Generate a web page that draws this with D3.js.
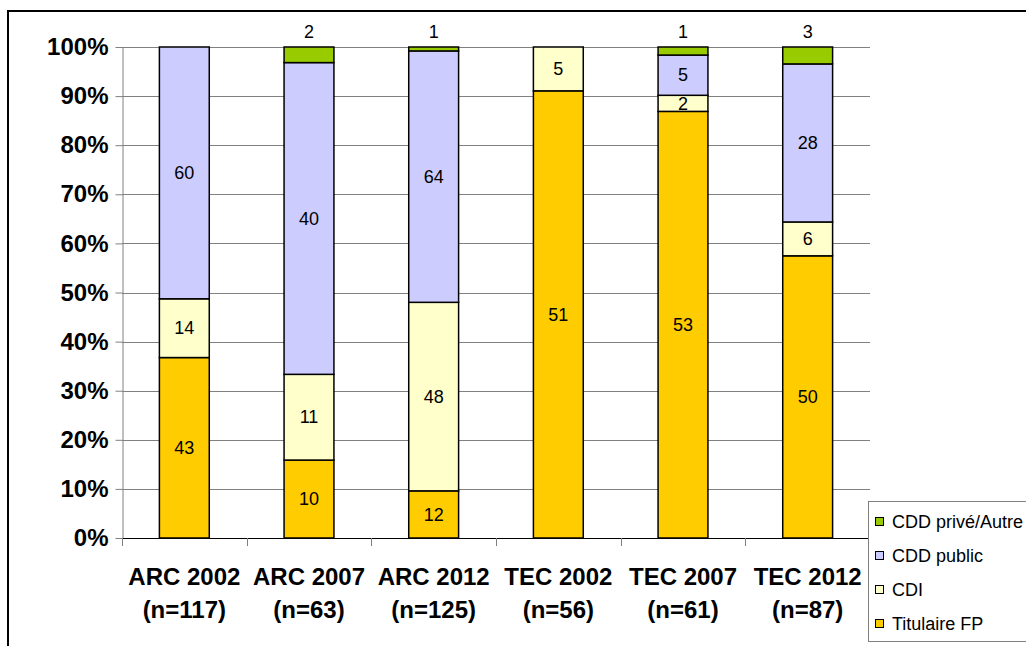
<!DOCTYPE html>
<html>
<head>
<meta charset="utf-8">
<script src="https://cdn.jsdelivr.net/npm/d3@7"></script>
<style>
  html, body { margin: 0; padding: 0; background: #fff; overflow: hidden; }
  svg { display: block; font-family: "Liberation Sans", Arial, sans-serif; }
</style>
</head>
<body>
<svg id="chart" width="1026" height="646"></svg>
<script>
// Staff status by cohort (headcounts, shown as 100% stacked bars)
const categories = ["ARC 2002", "ARC 2007", "ARC 2012", "TEC 2002", "TEC 2007", "TEC 2012"];
const sampleLabels = ["(n=117)", "(n=63)", "(n=125)", "(n=56)", "(n=61)", "(n=87)"];

const seriesNames = ["Titulaire FP", "CDI", "CDD public", "CDD privé/Autre"];
const seriesColors = ["#FFCC00", "#FFFFCC", "#CCCCFF", "#99CC00"];

const titulaireFP = [43, 10, 12, 51, 53, 50];
const cdi         = [14, 11, 48,  5,  2,  6];
const cddPublic   = [60, 40, 64,  0,  5, 28];
const cddPrive    = [ 0,  2,  1,  0,  1,  3];

const yTicks = [0, 0.1, 0.2, 0.3, 0.4, 0.5, 0.6, 0.7, 0.8, 0.9, 1];

const seriesValues = [titulaireFP, cdi, cddPublic, cddPrive];

const svg = d3.select("#chart");

// Outer chart frame
svg.append("rect")
  .attr("x", 8).attr("y", 11)
  .attr("width", 1100).attr("height", 700)
  .attr("fill", "none").attr("stroke", "#000").attr("stroke-width", 2);

const plot = { left: 122, right: 870, top: 47, bottom: 538 };

const x = d3.scaleBand()
  .domain(categories)
  .range([plot.left, plot.right])
  .paddingInner(0.6)
  .paddingOuter(0.3);

const y = d3.scaleLinear().domain([0, 1]).range([plot.bottom, plot.top]);

// Build rows with totals, then stack them as shares
const rows = categories.map((c, i) => {
  const r = { category: c };
  seriesNames.forEach((s, k) => { r[s] = seriesValues[k][i]; });
  r.total = d3.sum(seriesValues, v => v[i]);
  return r;
});

const stack = d3.stack()
  .keys(seriesNames)
  .value((d, key) => d[key] / d.total);
const stacked = stack(rows);

// Horizontal gridlines
svg.append("g")
  .selectAll("line")
  .data(yTicks.filter(t => t > 0))
  .join("line")
  .attr("x1", plot.left).attr("x2", plot.right)
  .attr("y1", d => Math.round(y(d)) + 0.5).attr("y2", d => Math.round(y(d)) + 0.5)
  .attr("stroke", "#808080").attr("stroke-width", 1);

// Y axis
const yAxis = svg.append("g")
  .attr("transform", `translate(${plot.left + 0.5},0)`)
  .call(d3.axisLeft(y).tickValues(yTicks).tickFormat(d3.format(".0%")).tickSize(7).tickPadding(7).tickSizeOuter(0));
yAxis.select(".domain").attr("stroke", "#808080");
yAxis.selectAll(".tick line").attr("stroke", "#808080");
yAxis.selectAll(".tick text")
  .attr("font-size", 24).attr("font-weight", "bold")
  .attr("font-family", "'Liberation Sans', Arial, sans-serif")
  .attr("fill", "#000");

// Stacked bars
const layers = svg.append("g")
  .selectAll("g")
  .data(stacked)
  .join("g")
  .attr("fill", (d, i) => seriesColors[i]);

layers.selectAll("rect")
  .data(d => d)
  .join("rect")
  .attr("x", d => x(d.data.category))
  .attr("width", x.bandwidth())
  .attr("y", d => y(d[1]))
  .attr("height", d => y(d[0]) - y(d[1]))
  .attr("stroke", "#000")
  .attr("stroke-width", 1.5)
  .attr("display", d => (d[1] - d[0]) > 0 ? null : "none");

// X axis baseline and category boundary ticks
svg.append("line")
  .attr("x1", plot.left).attr("x2", plot.right)
  .attr("y1", plot.bottom + 0.5).attr("y2", plot.bottom + 0.5)
  .attr("stroke", "#000").attr("stroke-width", 1);

svg.append("g")
  .selectAll("line")
  .data(d3.range(categories.length + 1))
  .join("line")
  .attr("x1", i => Math.round(plot.left + i * x.step()) + 0.5)
  .attr("x2", i => Math.round(plot.left + i * x.step()) + 0.5)
  .attr("y1", plot.bottom).attr("y2", plot.bottom + 8)
  .attr("stroke", "#808080").attr("stroke-width", 1);

// Category labels (two lines)
const catLabels = svg.append("g")
  .selectAll("text")
  .data(categories)
  .join("text")
  .attr("text-anchor", "middle")
  .attr("font-size", 24)
  .attr("font-weight", "bold")
  .attr("fill", "#000");
catLabels.append("tspan")
  .attr("x", d => x(d) + x.bandwidth() / 2)
  .attr("y", 585)
  .text(d => d);
catLabels.append("tspan")
  .attr("x", d => x(d) + x.bandwidth() / 2)
  .attr("y", 618)
  .text((d, i) => sampleLabels[i]);

// Value labels: inside segments, top series above the bar
const lastKey = seriesNames[seriesNames.length - 1];
stacked.forEach(layer => {
  svg.append("g")
    .selectAll("text")
    .data(layer.filter(d => d.data[layer.key] > 0))
    .join("text")
    .attr("x", d => x(d.data.category) + x.bandwidth() / 2)
    .attr("y", d => layer.key === lastKey ? y(d[1]) - 9 : (y(d[0]) + y(d[1])) / 2)
    .attr("dy", layer.key === lastKey ? 0 : "0.35em")
    .attr("text-anchor", "middle")
    .attr("font-size", 18)
    .attr("fill", "#000")
    .text(d => d.data[layer.key]);
});

// Legend
const legend = svg.append("g");
legend.append("rect")
  .attr("x", 868.5).attr("y", 501.5)
  .attr("width", 200).attr("height", 140)
  .attr("fill", "#fff").attr("stroke", "#808080").attr("stroke-width", 1);

const legendOrder = seriesNames.map((s, i) => i).reverse();
const legendItems = legend.selectAll("g.item")
  .data(legendOrder)
  .join("g")
  .attr("class", "item")
  .attr("transform", (d, j) => `translate(0,${521.5 + j * 34})`);
legendItems.append("rect")
  .attr("x", 875.5).attr("y", -4)
  .attr("width", 8).attr("height", 8)
  .attr("fill", i => seriesColors[i])
  .attr("stroke", "#000").attr("stroke-width", 1);
legendItems.append("text")
  .attr("x", 892)
  .attr("dy", "0.35em")
  .attr("font-size", 18)
  .attr("fill", "#000")
  .text(i => seriesNames[i]);
</script>
</body>
</html>
